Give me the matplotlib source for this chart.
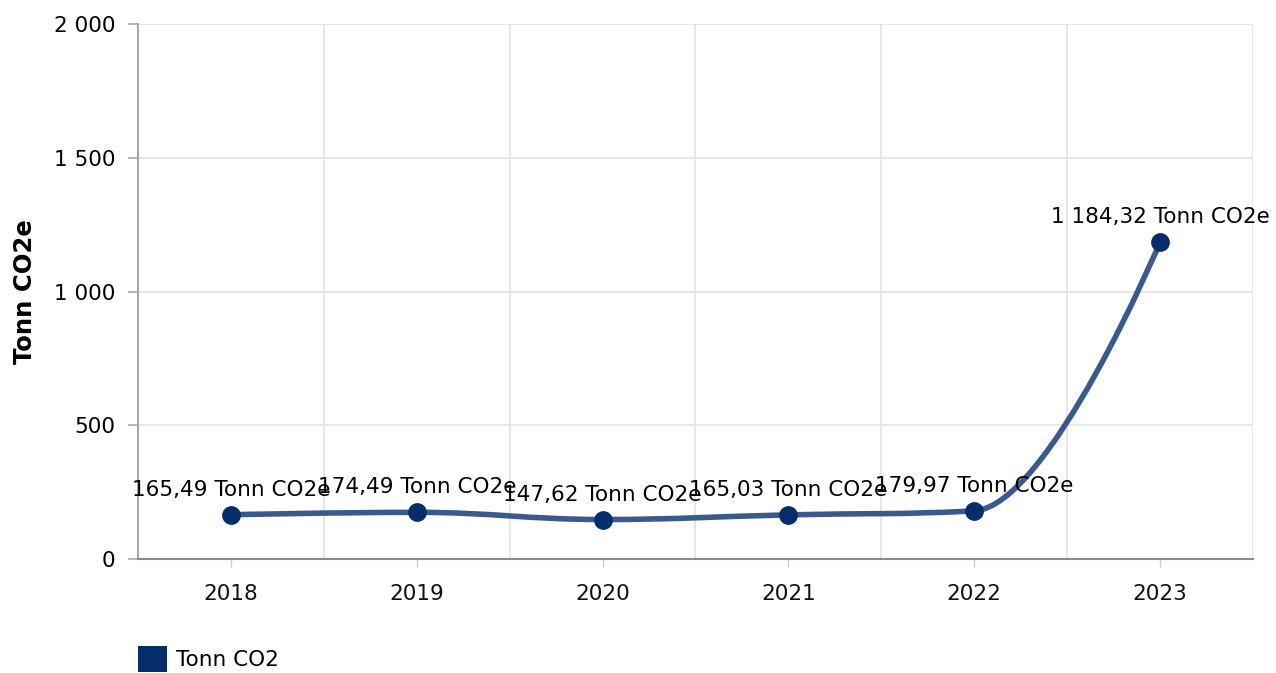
import matplotlib.pyplot as plt
from matplotlib.path import Path
from matplotlib.patches import PathPatch, Patch
from matplotlib.ticker import FuncFormatter

# values
years = ['2018', '2019', '2020', '2021', '2022', '2023']
tonn_co2e = [165.49, 174.49, 147.62, 165.03, 179.97, 1184.32]
y_ticks = [0, 500, 1000, 1500, 2000]
series_name = 'Tonn CO2'
y_title = 'Tonn CO2e'
unit = 'Tonn CO2e'

LINE_COLOR = '#3a5a8c'
MARKER_COLOR = '#062d6b'
FS = 15.5


def no_fmt(v, decimals=2):
    # norwegian style: space as thousands separator, comma as decimal sign
    s = f'{v:,.{decimals}f}'
    return s.replace(',', ' ').replace('.', ',')


def spline_path(xs, ys, smoothing=1.5):
    # highcharts style spline: control points per point, clamped to avoid false extremes
    denom = smoothing + 1
    n = len(xs)
    left = [None] * n
    right = [None] * n
    for i in range(1, n - 1):
        px, py = xs[i], ys[i]
        lx, ly = xs[i - 1], ys[i - 1]
        nx, ny = xs[i + 1], ys[i + 1]
        lcx = (smoothing * px + lx) / denom
        lcy = (smoothing * py + ly) / denom
        rcx = (smoothing * px + nx) / denom
        rcy = (smoothing * py + ny) / denom
        corr = (rcy - lcy) * (rcx - px) / (rcx - lcx) + py - rcy
        lcy += corr
        rcy += corr
        if lcy > ly and lcy > py:
            lcy = max(ly, py)
            rcy = 2 * py - lcy
        elif lcy < ly and lcy < py:
            lcy = min(ly, py)
            rcy = 2 * py - lcy
        if rcy > ny and rcy > py:
            rcy = max(ny, py)
            lcy = 2 * py - rcy
        elif rcy < ny and rcy < py:
            rcy = min(ny, py)
            lcy = 2 * py - rcy
        left[i] = (lcx, lcy)
        right[i] = (rcx, rcy)
    verts = [(xs[0], ys[0])]
    codes = [Path.MOVETO]
    for i in range(1, n):
        c1 = right[i - 1] or (xs[i - 1], ys[i - 1])
        c2 = left[i] or (xs[i], ys[i])
        verts += [c1, c2, (xs[i], ys[i])]
        codes += [Path.CURVE4] * 3
    return Path(verts, codes)


x = list(range(len(years)))

fig = plt.figure(figsize=(12.76, 6.73), dpi=100)
ax = fig.add_axes([138 / 1276, 1 - 559 / 673, (1253 - 138) / 1276, (559 - 24) / 673])

ax.add_patch(PathPatch(spline_path(x, tonn_co2e), facecolor='none', edgecolor=LINE_COLOR,
                       linewidth=4.0, capstyle='round', joinstyle='round', zorder=3))
ax.plot(x, tonn_co2e, linestyle='none', marker='o', markersize=12.5,
        color=MARKER_COLOR, zorder=4)

for xi, v in zip(x, tonn_co2e):
    ax.annotate(f'{no_fmt(v)} {unit}', (xi, v), textcoords='offset points', xytext=(0, 18),
                ha='center', va='center', fontsize=FS, color='black', zorder=5,
                annotation_clip=False)

ax.set_xlim(-0.5, len(years) - 0.5)
ax.set_ylim(0, 2000)
ax.set_xticks(x)
ax.set_xticklabels(years)
ax.set_xticks([i - 0.5 for i in range(len(years) + 1)], minor=True)
ax.set_yticks(y_ticks)
ax.yaxis.set_major_formatter(FuncFormatter(lambda v, p: no_fmt(v, 0)))

ax.grid(axis='y', which='major', color='#e3e3e3', linewidth=1.2, zorder=0)
ax.grid(axis='x', which='minor', color='#e3e3e3', linewidth=1.2, zorder=0)
ax.set_axisbelow(True)

for s in ['top', 'right']:
    ax.spines[s].set_visible(False)
ax.spines['left'].set_color('#a8a8a8')
ax.spines['left'].set_linewidth(1.5)
ax.spines['bottom'].set_color('#8a8a8a')
ax.spines['bottom'].set_linewidth(1.5)

ax.tick_params(axis='y', which='major', length=7.5, width=1.2, color='#a8a8a8',
               pad=9, labelsize=FS, labelcolor='black')
ax.tick_params(axis='x', which='major', length=6, width=1, color='#cccccc',
               pad=12, labelsize=FS, labelcolor='#111111')
ax.tick_params(axis='x', which='minor', length=0)

ax.set_ylabel(y_title, fontsize=17.5, fontweight='bold', labelpad=12)

fig.legend(handles=[Patch(facecolor=MARKER_COLOR, edgecolor='none', label=series_name)],
           loc='upper left', bbox_to_anchor=(138 / 1276, 1 - 646 / 673), frameon=False,
           fontsize=FS, handlelength=1.35, handleheight=1.5, handletextpad=0.4,
           borderpad=0, borderaxespad=0)

fig.savefig('out.png', dpi=100)
